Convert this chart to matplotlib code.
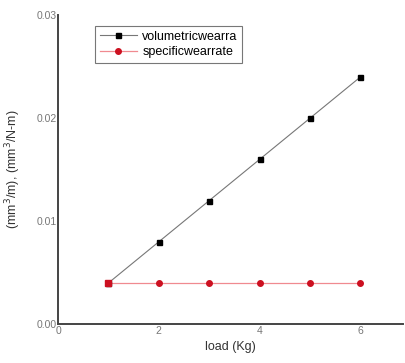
import numpy as np
import matplotlib.pyplot as plt

plt.rcParams['font.family'] = ['Liberation Sans', 'DejaVu Sans']

# data
load = [1, 2, 3, 4, 5, 6]
volumetric = [0.004, 0.008, 0.012, 0.016, 0.020, 0.024]
specific = [0.004, 0.004, 0.004, 0.004, 0.004, 0.004]
xticks = [0, 2, 4, 6]
yticks = [0.00, 0.01, 0.02, 0.03]

fig = plt.figure(figsize=(4.06, 3.63), dpi=100)
ax = fig.add_axes([0.143, 0.107, 0.85, 0.851])

ax.plot(load, specific, color='#f08a90', lw=0.9, marker='o', ms=4,
        mfc='#cc1020', mec='#cc1020', label='specificwearrate', zorder=2)
ax.plot(load, volumetric, color='#777777', lw=0.8, marker='s', ms=3.6,
        mfc='black', mec='black', label='volumetricwearra', zorder=3)
# first point of both series overlaps; the reference shows it as a red square
ax.plot(load[0], specific[0], ls='none', marker='s', ms=4, mfc='#cc1020',
        mec='#cc1020', zorder=4)

ax.set_xlim(0, 6.85)
ax.set_ylim(0, 0.03)
ax.set_xticks(xticks)
ax.set_yticks(yticks)
ax.set_yticklabels(['0.00', '0.01', '0.02', '0.03'])
ax.tick_params(length=0, labelsize=7.5, labelcolor='#777777', pad=1)
for s in ['top', 'right']:
    ax.spines[s].set_visible(False)
for s in ['left', 'bottom']:
    ax.spines[s].set_linewidth(1.4)
    ax.spines[s].set_color('#444444')

ax.set_xlabel('load (Kg)', fontsize=9, color='#333333', labelpad=4)
ax.set_ylabel('(mm$^3$/m), (mm$^3$/N-m)', fontsize=9, color='#333333', labelpad=10)

h, l = ax.get_legend_handles_labels()
leg = ax.legend(h[::-1], l[::-1], loc='upper left', bbox_to_anchor=(0.09, 0.985),
                fontsize=9, frameon=True, fancybox=False, edgecolor='#555555',
                handlelength=3.0, borderpad=0.35, labelspacing=0.3, handletextpad=0.4)
leg.get_frame().set_linewidth(0.8)

plt.savefig('out.png', dpi=100)
